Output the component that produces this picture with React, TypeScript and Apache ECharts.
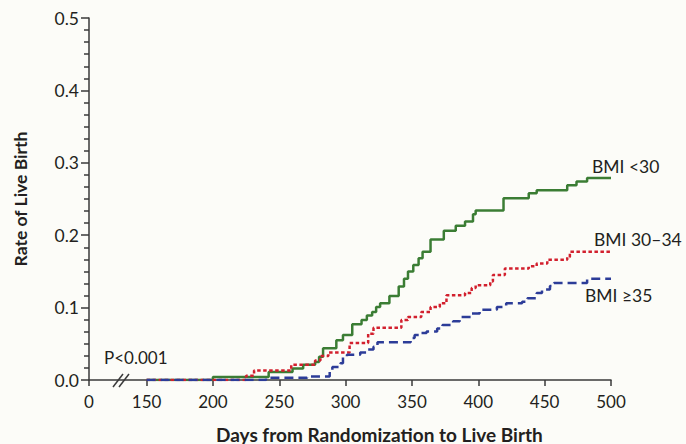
import { useEffect, useRef } from "react";
import * as echarts from "echarts";

// Broken x axis: "0" is drawn at this display position, days >= 150 are drawn at their own value.
const AXIS_ZERO = 106.6;
const xTickValues = [AXIS_ZERO, 150, 200, 250, 300, 350, 400, 450, 500];
const yMin = 0;
const yMax = 0.5;
const yInterval = 0.1;

const seriesNames = ["BMI <30", "BMI 30–34", "BMI ≥35"];

const greenDays = [150, 200, 242, 260, 268, 277, 280, 283, 293, 298, 305, 312, 316, 320, 323, 326, 333, 340, 344, 347, 351, 355, 358, 364, 374, 383, 390, 396, 398, 419, 438, 444, 467, 474, 482, 500];
const greenRates = [0, 0.004, 0.011, 0.016, 0.021, 0.025, 0.032, 0.044, 0.055, 0.062, 0.077, 0.083, 0.089, 0.094, 0.101, 0.106, 0.116, 0.129, 0.14, 0.15, 0.159, 0.168, 0.177, 0.194, 0.206, 0.213, 0.219, 0.229, 0.234, 0.251, 0.258, 0.262, 0.269, 0.274, 0.279, 0.279];

const redDays = [150, 225, 231, 259, 277, 281, 287, 303, 317, 321, 342, 347, 357, 364, 371, 376, 390, 395, 398, 409, 411, 420, 438, 444, 452, 467, 469, 500];
const redRates = [0, 0.006, 0.013, 0.021, 0.027, 0.033, 0.038, 0.051, 0.064, 0.072, 0.083, 0.087, 0.094, 0.101, 0.106, 0.117, 0.12, 0.127, 0.131, 0.136, 0.145, 0.154, 0.157, 0.161, 0.166, 0.17, 0.177, 0.177];

const blueDays = [150, 240, 271, 288, 290, 296, 298, 301, 311, 316, 321, 324, 349, 352, 356, 361, 369, 373, 381, 386, 395, 401, 414, 421, 433, 437, 444, 448, 454, 457, 482, 500];
const blueRates = [0, 0.003, 0.005, 0.011, 0.018, 0.023, 0.032, 0.035, 0.038, 0.042, 0.046, 0.052, 0.058, 0.062, 0.065, 0.067, 0.071, 0.076, 0.081, 0.087, 0.092, 0.097, 0.101, 0.106, 0.108, 0.113, 0.12, 0.125, 0.13, 0.134, 0.14, 0.14];

const pText = "P<0.001";
const xTitle = "Days from Randomization to Live Birth";
const yTitle = "Rate of Live Birth";

const FONT = "Lato, 'Open Sans', sans-serif";
const TEXT = "#231f20";
const AXIS = "#3a3a3a";

function pairs(xs: number[], ys: number[]) {
  return xs.map((x, i) => [x, ys[i]]);
}

export default function App() {
  const ref = useRef<HTMLDivElement>(null);
  useEffect(() => {
    const chart = echarts.init(ref.current!, null, { renderer: "svg" });
    const lineBase = { type: "line", step: "end", showSymbol: false, symbol: "none", silent: true };
    chart.setOption({
      animation: false,
      backgroundColor: "#fcfcf8",
      grid: { left: 89, right: 75, top: 18, bottom: 64, containLabel: false },
      xAxis: {
        type: "value",
        min: AXIS_ZERO,
        max: 500,
        splitLine: { show: false },
        axisLine: { show: true, lineStyle: { color: AXIS, width: 1.5 } },
        axisTick: { show: true, length: 6, inside: false, customValues: xTickValues, lineStyle: { color: AXIS, width: 1.5 } },
        axisLabel: {
          customValues: xTickValues,
          formatter: (v: number) => (v < 150 ? "0" : String(Math.round(v))),
          color: TEXT,
          fontFamily: FONT,
          fontSize: 17,
          margin: 13,
        },
      },
      yAxis: {
        type: "value",
        min: yMin,
        max: yMax,
        interval: yInterval,
        splitLine: { show: false },
        axisLine: { show: true, lineStyle: { color: AXIS, width: 1.5 } },
        axisTick: { show: true, length: 8, lineStyle: { color: AXIS, width: 1.5 } },
        minorTick: { show: true, splitNumber: 6, length: 5, lineStyle: { color: AXIS, width: 1.5 } },
        minorSplitLine: { show: false },
        axisLabel: {
          formatter: (v: number) => v.toFixed(1),
          color: TEXT,
          fontFamily: FONT,
          fontSize: 17.5,
          margin: 10,
        },
      },
      series: [
        { ...lineBase, name: seriesNames[0], data: pairs(greenDays, greenRates), z: 3, lineStyle: { color: "#3b7d34", width: 2.5, type: "solid" } },
        { ...lineBase, name: seriesNames[1], data: pairs(redDays, redRates), z: 4, lineStyle: { color: "#d2202e", width: 2.5, type: [3.5, 2.5] } },
        { ...lineBase, name: seriesNames[2], data: pairs(blueDays, blueRates), z: 5, lineStyle: { color: "#2c3c98", width: 2.5, type: [9, 5] } },
      ],
      graphic: [
        { type: "line", shape: { x1: 113, y1: 387, x2: 123, y2: 374 }, style: { stroke: AXIS, lineWidth: 1.5 }, z: 10 },
        { type: "line", shape: { x1: 119, y1: 387, x2: 129, y2: 374 }, style: { stroke: AXIS, lineWidth: 1.5 }, z: 10 },
        { type: "text", style: { x: 104, y: 357, text: pText, fill: TEXT, font: `17px ${FONT}`, textVerticalAlign: "middle" } },
        { type: "text", style: { x: 592, y: 166, text: seriesNames[0], fill: TEXT, font: `17.5px ${FONT}`, textVerticalAlign: "middle" } },
        { type: "text", style: { x: 594, y: 239, text: seriesNames[1], fill: TEXT, font: `17.5px ${FONT}`, textVerticalAlign: "middle" } },
        { type: "text", style: { x: 585, y: 295, text: seriesNames[2], fill: TEXT, font: `17.5px ${FONT}`, textVerticalAlign: "middle" } },
        { type: "text", style: { x: 216, y: 434, text: xTitle, fill: TEXT, font: `bold 19px ${FONT}`, textVerticalAlign: "middle" } },
        { type: "text", rotation: Math.PI / 2, x: 20, y: 199, style: { x: 0, y: 0, text: yTitle, fill: TEXT, font: `bold 17.5px ${FONT}`, textAlign: "center", textVerticalAlign: "middle" } },
      ],
    });
    return () => chart.dispose();
  }, []);
  return <div ref={ref} style={{ position: "absolute", left: 0, top: 0, width: 686, height: 444 }} />;
}
